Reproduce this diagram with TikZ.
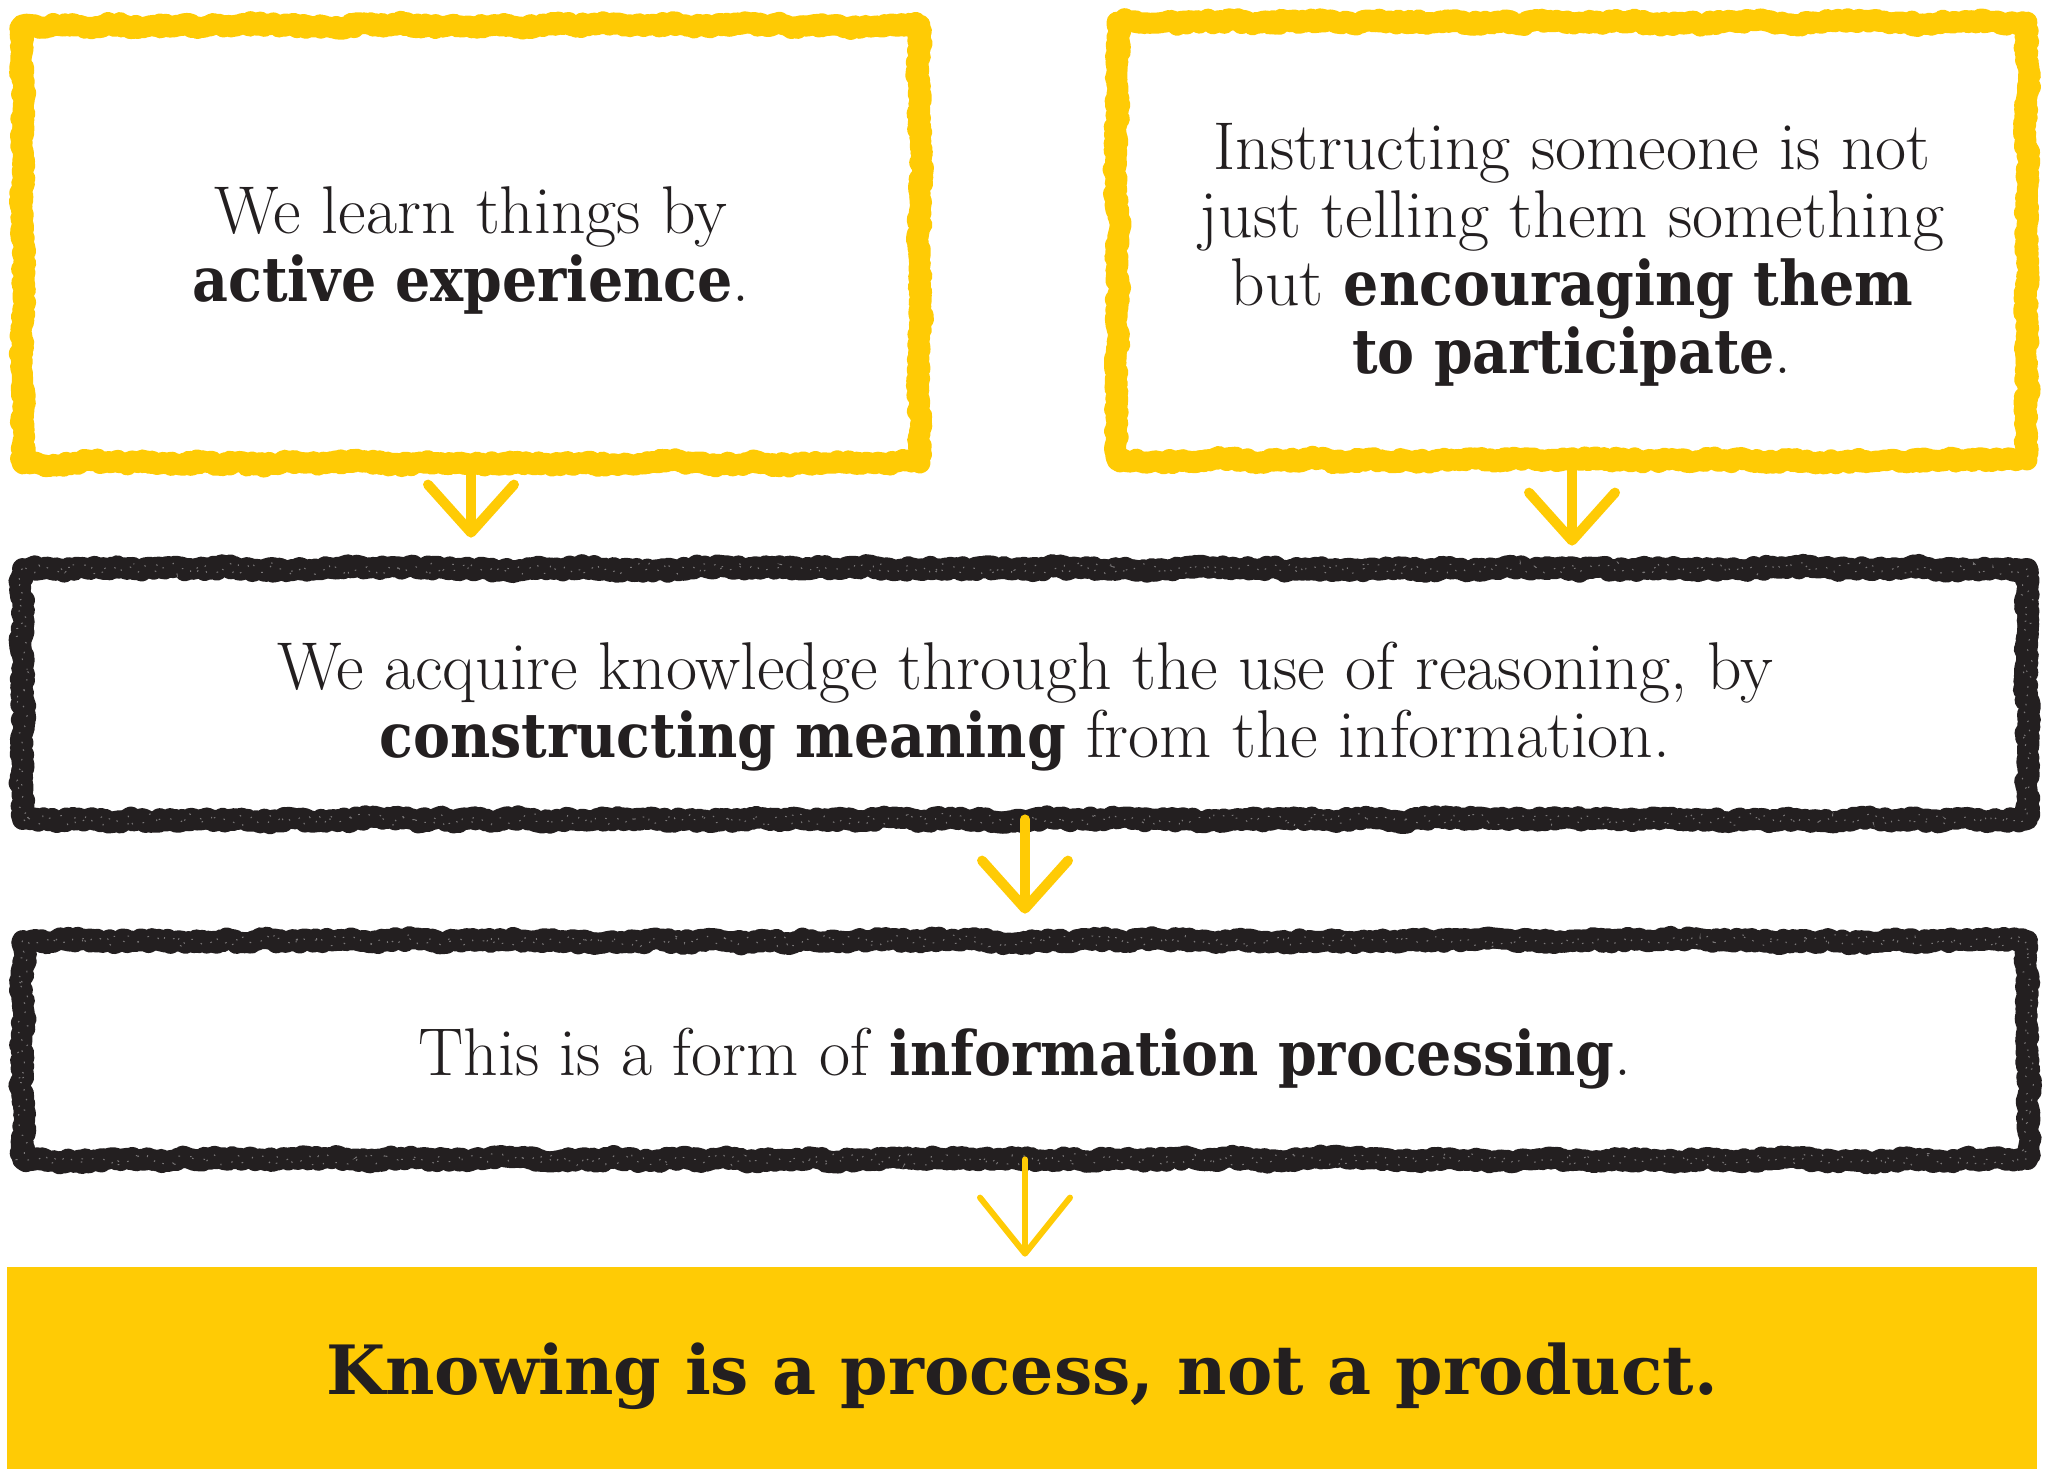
\documentclass[tikz,border=0pt]{standalone}
\usepackage{fontspec}
\usetikzlibrary{decorations.pathmorphing, arrows.meta}
\newfontfamily\slabb{DejaVu Serif Condensed}
\newfontfamily\slabw{DejaVu Serif}
\definecolor{yel}{RGB}{255,203,5}
\definecolor{ink}{RGB}{35,31,32}
\newcommand{\hb}[1]{{\slabb\bfseries\fontsize{30.8}{34}\selectfont #1}}
\tikzset{
  txt/.style={text=ink, align=center, inner sep=0pt, font=\fontsize{33.8}{34}\selectfont},
  boxshape/.style={inner sep=0pt},
  rough/.style={draw=#1, line width=9.5pt, line join=round, line cap=round,
    decorate, decoration={random steps, segment length=9pt, amplitude=1.1pt},
    preaction={draw=#1, line width=10.5pt, line join=round, line cap=round,
      decorate, decoration={random steps, segment length=1.3pt, amplitude=1.2pt}}},
  speck/.style={draw=white, line width=0.5pt, opacity=0.4, dash pattern=on 0.8pt off 5pt,
    decorate, decoration={random steps, segment length=2pt, amplitude=3pt}},
  yarr/.style={draw=yel, line width=5pt, line cap=round, -{Straight Barb[length=24pt, width=43pt, round]}},
  yarrthin/.style={draw=yel, line width=3pt, line cap=round, -{Straight Barb[length=28pt, width=45pt, round]}},
}
\begin{document}
\begin{tikzpicture}[x=0.5pt,y=0.5pt]
\pgfmathsetseed{7}
\useasboundingbox (0,0) rectangle (2048,-1469);
% boxes
\node[boxshape, minimum width=448.5pt, minimum height=218.5pt] (b1) at (471,-244) {};
\node[boxshape, minimum width=454.5pt, minimum height=218.5pt] (b2) at (1572,-241) {};
\node[boxshape, minimum width=1002pt, minimum height=125pt] (b3) at (1025,-694) {};
\node[boxshape, minimum width=1002pt, minimum height=109pt] (b4) at (1025,-1050) {};
\node[boxshape, fill=yel, minimum width=1015pt, minimum height=101pt] (b5) at (1022,-1368) {};
\draw[rough=yel] (b1.north west) rectangle (b1.south east);
\draw[rough=yel] (b2.north west) rectangle (b2.south east);
\draw[rough=ink] (b3.north west) rectangle (b3.south east);
\draw[rough=ink] (b4.north west) rectangle (b4.south east);
\draw[speck] (b3.north west) rectangle (b3.south east);
\draw[speck] (b4.north west) rectangle (b4.south east);
% texts
\node[txt] (t1) at (471,-250) {We learn things by\\ \hb{active experience}.};
\node[txt] (t2) at (1572,-255) {Instructing someone is not\\ just telling them something\\ but \hb{encouraging them}\\ \hb{to participate}.};
\node[txt] (t3) at (1025,-707) {We acquire knowledge through the use of reasoning, by\\ \hb{constructing meaning} from the information.};
\node[txt] (t4) at (1025,-1059) {This is a form of \hb{information processing}.};
\node[text=ink, inner sep=0pt, font=\slabw\bfseries\fontsize{34}{40}\selectfont] (t5) at (1022,-1376) {Knowing is a process, not a product.};
% arrows
\draw[yarr, shorten >=15.5pt] (b1.south) -- (b1.south |- b3.north);
\draw[yarr, shorten >=11.5pt] (b2.south) -- (b2.south |- b3.north);
\draw[yarr, shorten >=13.5pt] (b3.south) -- (b3.south |- b4.north);
\draw[yarrthin, shorten >=5pt] (b4.south) -- (b4.south |- b5.north);
\end{tikzpicture}
\end{document}
